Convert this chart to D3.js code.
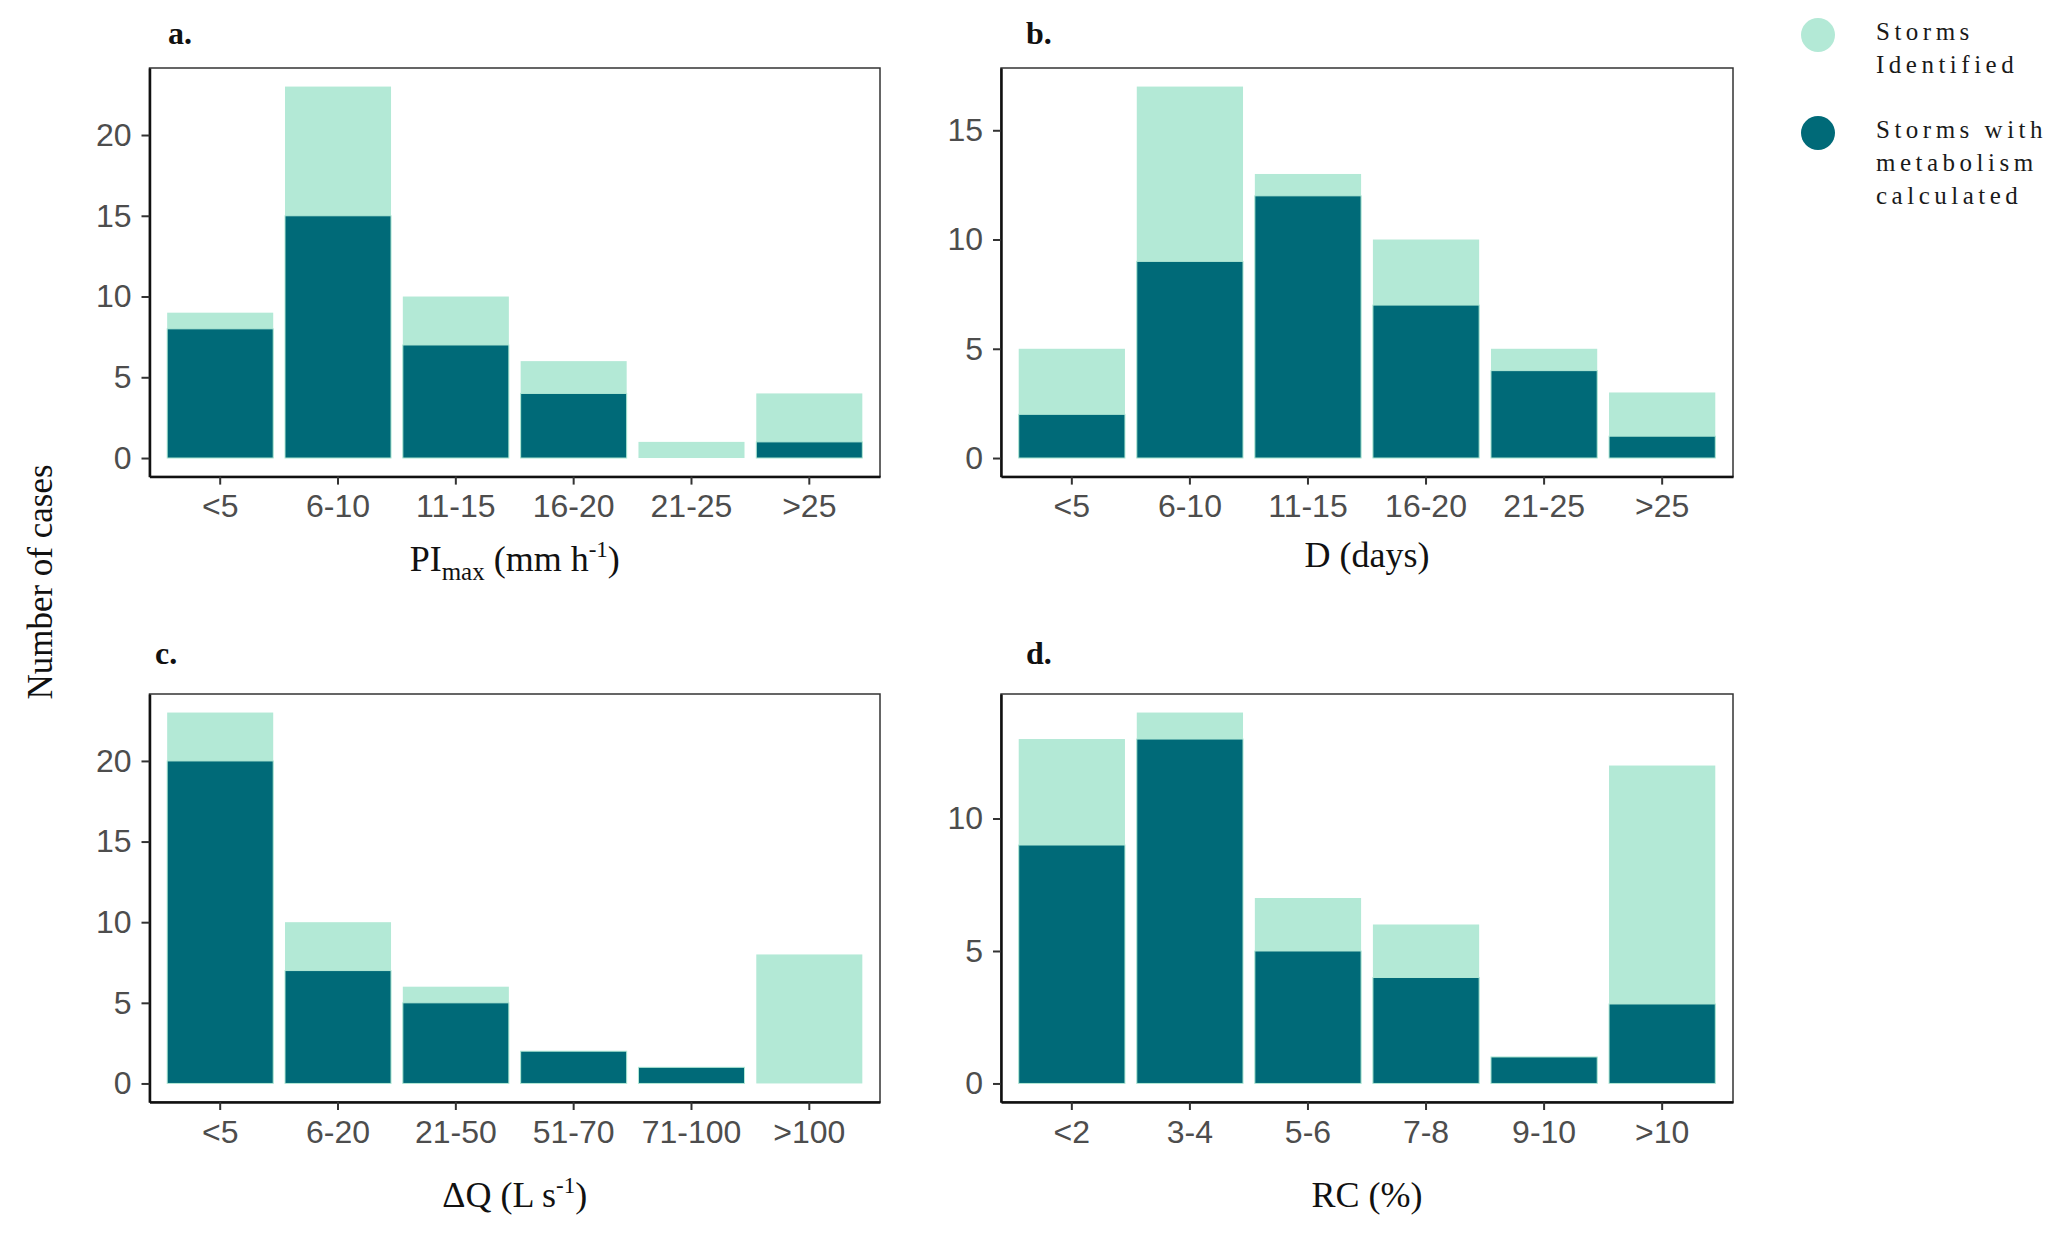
<!DOCTYPE html>
<html>
<head>
<meta charset="utf-8">
<script src="https://cdn.jsdelivr.net/npm/d3@7"></script>
<style>
body{margin:0;background:#fff;}
svg{display:block;}
</style>
</head>
<body>
<svg id="chart" width="2067" height="1233"></svg>
<script>
// ---- data ----
const catsA = ["<5","6-10","11-15","16-20","21-25",">25"];
const identA = [9,23,10,6,1,4];
const metabA = [8,15,7,4,0,1];
const ticksA = [0,5,10,15,20];

const catsB = ["<5","6-10","11-15","16-20","21-25",">25"];
const identB = [5,17,13,10,5,3];
const metabB = [2,9,12,7,4,1];
const ticksB = [0,5,10,15];

const catsC = ["<5","6-20","21-50","51-70","71-100",">100"];
const identC = [23,10,6,2,1,8];
const metabC = [20,7,5,2,1,0];
const ticksC = [0,5,10,15,20];

const catsD = ["<2","3-4","5-6","7-8","9-10",">10"];
const identD = [13,14,7,6,1,12];
const metabD = [9,13,5,4,1,3];
const ticksD = [0,5,10];

const legendLabels = [["Storms","Identified"],["Storms with","metabolism","calculated"]];

const LIGHT = "#b3e9d6", DARK = "#006a78";

const svg = d3.select("#chart");

const panels = [
  {label:"a.", lx:168, ly:44, cats:catsA, ident:identA, metab:metabA, ticks:ticksA,
   x0:149.5, x1:880, y0:68, y1:476.6, titleY:571, title:"PI"},
  {label:"b.", lx:1026, ly:44, cats:catsB, ident:identB, metab:metabB, ticks:ticksB,
   x0:1001, x1:1733, y0:68, y1:476.6, titleY:567, title:"D"},
  {label:"c.", lx:155, ly:664, cats:catsC, ident:identC, metab:metabC, ticks:ticksC,
   x0:149.5, x1:880, y0:694, y1:1102, titleY:1207, title:"Q"},
  {label:"d.", lx:1026, ly:664, cats:catsD, ident:identD, metab:metabD, ticks:ticksD,
   x0:1001, x1:1733, y0:694, y1:1102, titleY:1207, title:"RC"}
];

panels.forEach(p => {
  const maxV = d3.max(p.ident);
  const x = d3.scaleBand().domain(p.cats).range([p.x0, p.x1]).paddingInner(0.1).paddingOuter(0.15);
  const y = d3.scaleLinear().domain([-0.05*maxV, maxV*1.05]).range([p.y1, p.y0]);
  const g = svg.append("g");

  g.append("rect").attr("x", p.x0).attr("y", p.y0)
    .attr("width", p.x1-p.x0).attr("height", p.y1-p.y0)
    .attr("fill","none").attr("stroke","#333").attr("stroke-width",1.5);

  g.selectAll(".li").data(p.cats).join("rect")
    .attr("x", d => x(d)).attr("width", x.bandwidth())
    .attr("y", (d,i) => y(p.ident[i])).attr("height", (d,i) => y(0)-y(p.ident[i]))
    .attr("fill", LIGHT);
  g.selectAll(".dk").data(p.cats).join("rect")
    .attr("x", d => x(d)).attr("width", x.bandwidth())
    .attr("y", (d,i) => y(p.metab[i])).attr("height", (d,i) => y(0)-y(p.metab[i]))
    .attr("fill", DARK).attr("stroke", LIGHT).attr("stroke-width", (d,i)=>p.metab[i]>0?1:0);

  const ya = g.append("g").attr("transform",`translate(${p.x0},0)`)
    .call(d3.axisLeft(y).tickValues(p.ticks).tickSize(8).tickSizeOuter(0).tickPadding(10));
  const xa = g.append("g").attr("transform",`translate(0,${p.y1})`)
    .call(d3.axisBottom(x).tickSize(8).tickSizeOuter(0).tickPadding(10));
  [ya,xa].forEach(a => {
    a.select(".domain").attr("stroke","#111").attr("stroke-width",2.5);
    a.selectAll(".tick line").attr("stroke","#333").attr("stroke-width",2);
    a.selectAll(".tick text").attr("fill","#4d4d4d")
      .style("font-family","'Liberation Sans', Arial, sans-serif").style("font-size","32px");
  });

  g.append("text").attr("x", p.lx).attr("y", p.ly).text(p.label)
    .style("font-family","'Liberation Serif','Times New Roman',serif")
    .style("font-weight","bold").style("font-size","32px").attr("fill","#111");

  const t = g.append("text").attr("x",(p.x0+p.x1)/2).attr("y",p.titleY)
    .attr("text-anchor","middle").attr("fill","#111")
    .style("font-family","'Liberation Serif','Times New Roman',serif").style("font-size","36px");
  if (p.title === "PI") {
    t.append("tspan").text("PI");
    t.append("tspan").text("max").attr("dy",9).style("font-size","25px");
    t.append("tspan").text(" (mm h").attr("dy",-9);
    t.append("tspan").text("-1").attr("dy",-14).style("font-size","23px");
    t.append("tspan").text(")").attr("dy",14);
  } else if (p.title === "D") {
    t.text("D (days)");
  } else if (p.title === "Q") {
    t.append("tspan").text("ΔQ (L s");
    t.append("tspan").text("-1").attr("dy",-14).style("font-size","23px");
    t.append("tspan").text(")").attr("dy",14);
  } else {
    t.text("RC (%)");
  }
});

svg.append("text").attr("transform","translate(52,582) rotate(-90)")
  .attr("text-anchor","middle").attr("fill","#111")
  .style("font-family","'Liberation Serif','Times New Roman',serif").style("font-size","35px")
  .text("Number of cases");

const legColors = [LIGHT, DARK];
const legY = [35, 133];
legendLabels.forEach((lines, k) => {
  svg.append("circle").attr("cx",1818).attr("cy",legY[k]).attr("r",17).attr("fill",legColors[k]);
  const tx = svg.append("text").attr("x",1876).attr("y",legY[k]+5).attr("fill","#1a1a1a")
    .style("font-family","'Liberation Serif','Times New Roman',serif").style("font-size","25px")
    .style("letter-spacing","4.5px");
  lines.forEach((ln, j) => {
    tx.append("tspan").attr("x",1876).attr("y", legY[k]+5+j*33).text(ln);
  });
});
</script>
</body>
</html>
